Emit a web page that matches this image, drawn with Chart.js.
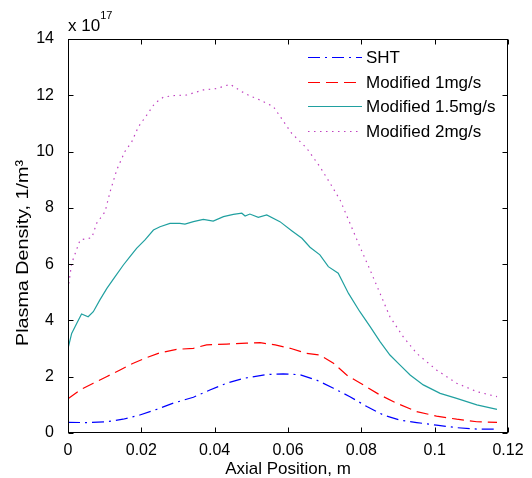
<!DOCTYPE html>
<html>
<head>
<meta charset="utf-8">
<script src="https://cdn.jsdelivr.net/npm/chart.js@4.4.1/dist/chart.umd.min.js"></script>
<style>
html,body{margin:0;padding:0;background:#fff;}
#wrap{width:532px;height:478px;}
</style>
</head>
<body>
<div id="wrap"><canvas id="c" width="532" height="478"></canvas></div>
<script>
// ---- data (density in units of 1e17 1/m^3) ----
const seriesNames = ["SHT", "Modified 1mg/s", "Modified 1.5mg/s", "Modified 2mg/s"];

const shtX = [0, 0.005, 0.0105, 0.015, 0.0196, 0.0242, 0.0287, 0.0342, 0.0387, 0.0433, 0.0478, 0.0524, 0.0542, 0.0587, 0.0633, 0.0678, 0.0724, 0.0769, 0.0815, 0.086, 0.0905, 0.0951, 0.1005, 0.106, 0.1115, 0.117];
const shtY = [0.38, 0.37, 0.40, 0.49, 0.64, 0.84, 1.06, 1.27, 1.53, 1.77, 1.94, 2.04, 2.08, 2.10, 2.07, 1.88, 1.59, 1.29, 0.94, 0.64, 0.46, 0.37, 0.28, 0.19, 0.14, 0.14];

const mod1X = [0, 0.0033, 0.0069, 0.0105, 0.0142, 0.0178, 0.0215, 0.0251, 0.0296, 0.0342, 0.0378, 0.0433, 0.0487, 0.0524, 0.0565, 0.0606, 0.0651, 0.0687, 0.0724, 0.076, 0.0805, 0.0851, 0.0896, 0.0951, 0.1005, 0.106, 0.1115, 0.117];
const mod1Y = [1.22, 1.53, 1.77, 2.00, 2.24, 2.48, 2.68, 2.85, 2.97, 3.01, 3.13, 3.16, 3.19, 3.21, 3.13, 3.01, 2.83, 2.77, 2.48, 2.06, 1.71, 1.35, 1.06, 0.76, 0.60, 0.49, 0.40, 0.38];

const mod15X = [0, 0.001, 0.0024, 0.0037, 0.0055, 0.0069, 0.0087, 0.0106, 0.0128, 0.0151, 0.0169, 0.0187, 0.021, 0.0233, 0.0251, 0.0278, 0.0305, 0.0319, 0.0342, 0.0369, 0.0396, 0.0424, 0.0451, 0.0474, 0.0483, 0.0496, 0.0519, 0.0542, 0.0578, 0.061, 0.0638, 0.066, 0.0687, 0.071, 0.0737, 0.0765, 0.0796, 0.0824, 0.0851, 0.0878, 0.0905, 0.0933, 0.0969, 0.1015, 0.106, 0.1115, 0.117];
const mod15Y = [3.0, 3.54, 3.90, 4.23, 4.13, 4.31, 4.73, 5.14, 5.55, 5.97, 6.27, 6.56, 6.86, 7.21, 7.33, 7.45, 7.45, 7.42, 7.51, 7.59, 7.53, 7.69, 7.77, 7.81, 7.71, 7.78, 7.66, 7.75, 7.51, 7.19, 6.92, 6.60, 6.33, 5.91, 5.68, 4.96, 4.31, 3.78, 3.25, 2.77, 2.42, 2.06, 1.71, 1.41, 1.23, 1.00, 0.84];

const mod2X = [0, 0.001, 0.0033, 0.0065, 0.0078, 0.0101, 0.0115, 0.0133, 0.0155, 0.0174, 0.0192, 0.0215, 0.0237, 0.026, 0.0287, 0.0324, 0.0369, 0.0406, 0.0442, 0.0474, 0.0496, 0.0524, 0.056, 0.061, 0.0651, 0.0687, 0.0715, 0.0742, 0.0769, 0.0796, 0.0824, 0.0851, 0.0878, 0.0914, 0.0951, 0.1005, 0.106, 0.1115, 0.117];
const mod2Y = [5.1, 6.03, 6.86, 6.94, 7.45, 7.86, 8.58, 9.35, 10.0, 10.35, 10.88, 11.3, 11.72, 11.93, 11.99, 12.01, 12.19, 12.24, 12.39, 12.13, 11.98, 11.83, 11.6, 10.65, 10.12, 9.46, 8.87, 8.28, 7.45, 6.62, 5.79, 4.96, 4.13, 3.42, 2.83, 2.24, 1.77, 1.47, 1.29];

const xTicks = [0, 0.02, 0.04, 0.06, 0.08, 0.1, 0.12];
const xTickLabels = ["0", "0.02", "0.04", "0.06", "0.08", "0.1", "0.12"];
const yTicks = [0, 2, 4, 6, 8, 10, 12, 14];
const yTickLabels = ["0", "2", "4", "6", "8", "10", "12", "14"];

const FONT = "'Liberation Sans', Arial, sans-serif";

function pts(xs, ys){ return xs.map((x,i)=>({x:x, y:ys[i]})); }

const styles = [
  {color:'#0000ff', dash:[12,5,2,5]},
  {color:'#ff0000', dash:[12,6]},
  {color:'#20a0a0', dash:[]},
  {color:'#c040c0', dash:[1.5,4.5]}
];
const seriesData = [pts(shtX, shtY), pts(mod1X, mod1Y), pts(mod15X, mod15Y), pts(mod2X, mod2Y)];

const datasets = seriesData.map((d,i)=>({
  label: seriesNames[i],
  data: d,
  borderColor: styles[i].color,
  backgroundColor: styles[i].color,
  borderDash: styles[i].dash,
  borderWidth: 1.2,
  pointRadius: 0,
  showLine: true,
  fill: false,
  tension: 0
}));

const framePlugin = {
  id: 'frame',
  afterDraw(chart){
    const ctx = chart.ctx, a = chart.chartArea;
    const xs = chart.scales.x, ys = chart.scales.y;
    ctx.save();
    ctx.strokeStyle = '#000';
    ctx.lineWidth = 1;
    ctx.setLineDash([]);
    const L = Math.round(a.left)+0.5, R = Math.round(a.right)-0.5, T = Math.round(a.top)+0.5, B = Math.round(a.bottom)-0.5;
    ctx.strokeRect(L, T, R-L, B-T);
    ctx.beginPath();
    xTicks.forEach(v=>{
      const px = Math.round(xs.getPixelForValue(v))+0.5;
      ctx.moveTo(px, B); ctx.lineTo(px, B-5);
      ctx.moveTo(px, T); ctx.lineTo(px, T+5);
    });
    yTicks.forEach(v=>{
      const py = Math.round(ys.getPixelForValue(v))+0.5;
      ctx.moveTo(L, py); ctx.lineTo(L+5, py);
      ctx.moveTo(R, py); ctx.lineTo(R-5, py);
    });
    ctx.stroke();

    // exponent label
    ctx.fillStyle = '#000';
    ctx.textBaseline = 'alphabetic';
    ctx.textAlign = 'left';
    ctx.font = "17px " + FONT;
    ctx.fillText("x 10", 68, 31);
    const w = ctx.measureText("x 10").width;
    ctx.font = "11px " + FONT;
    ctx.fillText("17", 68 + w, 19);

    // y axis title
    ctx.save();
    ctx.translate(23, 253);
    ctx.rotate(-Math.PI/2);
    ctx.scale(1.16, 1);
    ctx.font = "17px " + FONT;
    ctx.textAlign = 'center';
    ctx.textBaseline = 'middle';
    ctx.fillText("Plasma Density, 1/m\u00B3", 0, 0);
    ctx.restore();

    // legend
    const lx0 = 308, lx1 = 362, tx = 366, ly0 = 57, step = 24.7;
    chart.data.datasets.forEach((ds,i)=>{
      const y = Math.round(ly0 + i*step) + 0.5;
      ctx.save();
      ctx.strokeStyle = ds.borderColor;
      ctx.lineWidth = 1.2;
      ctx.setLineDash(ds.borderDash || []);
      ctx.beginPath();
      ctx.moveTo(lx0, y); ctx.lineTo(lx1, y);
      ctx.stroke();
      ctx.restore();
      ctx.fillStyle = '#000';
      ctx.font = "17px " + FONT;
      ctx.textAlign = 'left';
      ctx.textBaseline = 'middle';
      ctx.fillText(ds.label, tx, y + 1);
    });
    ctx.restore();
  }
};

new Chart(document.getElementById('c'), {
  type: 'scatter',
  data: { datasets: datasets },
  options: {
    responsive: false,
    animation: false,
    devicePixelRatio: 1,
    layout: { padding: { top: 39, right: 24, left: 0, bottom: 0 } },
    plugins: { legend: { display: false }, tooltip: { enabled: false } },
    scales: {
      x: {
        type: 'linear', min: 0, max: 0.12,
        afterBuildTicks(scale){ scale.ticks = xTicks.map(v=>({value:v})); },
        afterFit(scale){ scale.height = 45; },
        grid: { display: false },
        border: { display: false },
        ticks: {
          padding: 0, color: '#000', font: { family: FONT, size: 16 },
          maxRotation: 0, autoSkip: false,
          callback(v){ const i = xTicks.findIndex(t=>Math.abs(t-v)<1e-9); return i>=0 ? xTickLabels[i] : ''; }
        },
        title: { display: true, text: 'Axial Position, m', color: '#000', font: { family: FONT, size: 17 }, padding: { top: 0, bottom: -2 } }
      },
      y: {
        type: 'linear', min: 0, max: 14,
        afterBuildTicks(scale){ scale.ticks = yTicks.map(v=>({value:v})); },
        afterFit(scale){ scale.width = 68; },
        grid: { display: false },
        border: { display: false },
        ticks: {
          padding: 6, color: '#000', font: { family: FONT, size: 16 },
          autoSkip: false,
          callback(v){ const i = yTicks.findIndex(t=>Math.abs(t-v)<1e-9); return i>=0 ? yTickLabels[i] : ''; }
        },
        title: { display: false }
      }
    }
  },
  plugins: [framePlugin]
});
</script>
</body>
</html>
